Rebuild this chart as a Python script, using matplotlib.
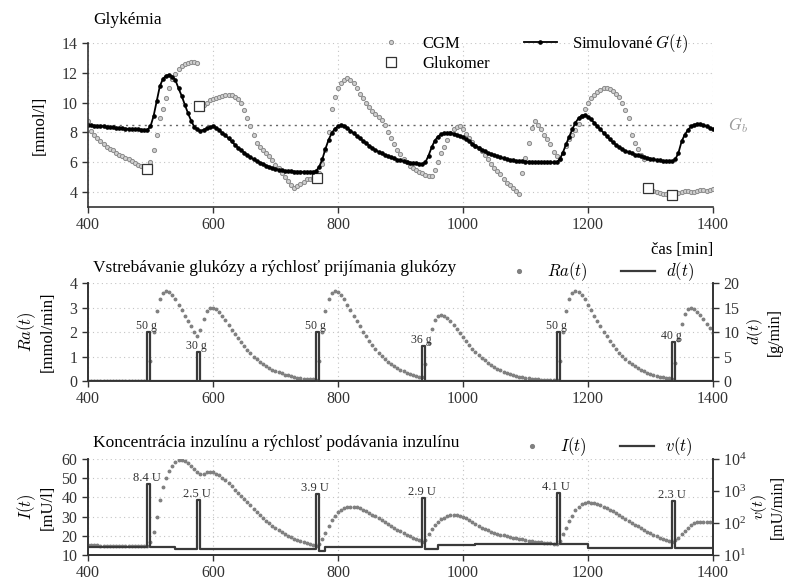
import numpy as np
import matplotlib
matplotlib.use('Agg')
import matplotlib.pyplot as plt

plt.rcParams['font.family'] = ['Liberation Serif', 'DejaVu Serif']
plt.rcParams['mathtext.fontset'] = 'cm'
plt.rcParams['font.size'] = 12

# casova os (vzorky po 5 min)
t = np.arange(400, 1401, 5)

# CGM meranie [mmol/l]
cgm = [8.8, 8.1, 7.85, 7.6, 7.4, 7.2, 7.05, 6.9, 6.8, 6.65, 6.5, 6.4, 6.3, 6.2, 6.1, 5.95, 5.85, 5.75, 5.65, 5.6,
       6.0, 6.8, 7.85, 8.95, 9.6, 10.3, 11.0, 11.6, 11.95, 12.25, 12.45, 12.6, 12.65, 12.7, 12.7, 12.65, 9.8, 9.85, 10.0, 10.15,
       10.25, 10.3, 10.4, 10.45, 10.5, 10.5, 10.5, 10.4, 10.25, 9.95, 9.5, 8.95, 8.45, 7.8, 7.3, 7.0, 6.8, 6.6, 6.4, 6.15,
       5.85, 5.6, 5.3, 5.0, 4.75, 4.45, 4.3, 4.4, 4.55, 4.7, 4.85, 4.9, 4.95, 5.0, 5.3, 5.9, 6.8, 8.0, 9.6, 10.4,
       11.0, 11.35, 11.55, 11.65, 11.55, 11.3, 10.95, 10.6, 10.3, 10.0, 9.7, 9.45, 9.25, 9.05, 8.85, 8.5, 8.0, 7.6, 7.2, 6.85,
       6.55, 6.25, 6.0, 5.75, 5.6, 5.45, 5.35, 5.25, 5.15, 5.1, 5.05, 5.5, 6.0, 6.6, 7.0, 7.5, 7.95, 8.25, 8.35, 8.4,
       8.2, 7.9, 7.6, 7.35, 7.1, 6.95, 6.75, 6.5, 6.2, 5.9, 5.6, 5.4, 5.2, 4.9, 4.6, 4.45, 4.25, 4.05, 3.85, 5.3,
       6.3, 7.3, 8.3, 8.75, 8.5, 8.2, 7.85, 7.55, 7.2, 6.7, 6.4, 6.25, 6.6, 7.1, 7.55, 7.85, 8.15, 8.6, 9.1, 9.55,
       9.95, 10.3, 10.5, 10.7, 10.85, 10.95, 10.95, 10.9, 10.8, 10.6, 10.35, 9.95, 9.5, 8.95, 7.85, 7.3, 6.9, 6.5, 6.2, 4.3,
       4.15, 4.05, 4.0, 3.95, 3.9, 3.85, 3.8, 3.8, 3.85, 3.95, 4.0, 4.05, 4.05, 4.0, 4.0, 4.1, 4.15, 4.15, 4.1, 4.15,
       4.2]

# simulovana glykemia G(t) [mmol/l]
g_sim = [8.5, 8.48, 8.46, 8.44, 8.42, 8.4, 8.38, 8.36, 8.34, 8.32, 8.3, 8.28, 8.26, 8.24, 8.22, 8.21, 8.2, 8.19, 8.18, 8.18,
         8.4, 9.1, 10.1, 11.1, 11.6, 11.8, 11.87, 11.75, 11.5, 10.95, 10.45, 9.86, 9.3, 8.8, 8.38, 8.2, 8.1, 8.18, 8.27, 8.36,
         8.4, 8.32, 8.15, 7.95, 7.8, 7.6, 7.4, 7.18, 6.98, 6.8, 6.65, 6.48, 6.35, 6.2, 6.08, 5.98, 5.88, 5.78, 5.7, 5.62,
         5.56, 5.5, 5.46, 5.42, 5.4, 5.39, 5.38, 5.37, 5.37, 5.36, 5.36, 5.36, 5.36, 5.4, 5.7, 6.2, 6.9, 7.5, 7.95, 8.25,
         8.4, 8.47, 8.45, 8.3, 8.12, 7.95, 7.78, 7.6, 7.45, 7.28, 7.12, 6.95, 6.82, 6.7, 6.6, 6.5, 6.4, 6.33, 6.26, 6.18,
         6.12, 6.06, 6.02, 5.98, 5.95, 5.92, 5.9, 5.88, 6.0, 6.45, 7.0, 7.45, 7.72, 7.88, 7.95, 7.97, 7.96, 7.92, 7.86, 7.78,
         7.68, 7.55, 7.4, 7.25, 7.1, 6.98, 6.85, 6.74, 6.64, 6.55, 6.48, 6.4, 6.33, 6.27, 6.2, 6.16, 6.12, 6.09, 6.07, 6.06,
         6.05, 6.04, 6.03, 6.02, 6.01, 6.0, 6.0, 5.99, 5.99, 5.99, 6.0, 6.2, 6.65, 7.2, 7.7, 8.2, 8.65, 8.95, 9.12, 9.15,
         9.05, 8.88, 8.65, 8.42, 8.2, 7.98, 7.75, 7.55, 7.35, 7.17, 7.02, 6.88, 6.76, 6.68, 6.6, 6.52, 6.46, 6.4, 6.34, 6.3,
         6.25, 6.2, 6.16, 6.12, 6.09, 6.07, 6.06, 6.06, 6.2, 6.65, 7.4, 7.85, 8.15, 8.4, 8.52, 8.56, 8.55, 8.5, 8.42, 8.32,
         8.2]

# glukomer
gluko_t = [495, 578, 767, 1296, 1335]
gluko_v = [5.55, 9.8, 4.95, 4.25, 3.8]
gb = 8.5

# Ra(t) [mmol/min]
ra = [0] * 20 + \
     [0.8, 2.0, 2.85, 3.35, 3.6, 3.68, 3.62, 3.5, 3.33, 3.12, 2.9, 2.67, 2.45, 2.23, 2.02, 1.82, 2.1, 2.55, 2.85, 2.98,
      3.0, 2.95, 2.82, 2.66, 2.48, 2.29, 2.1, 1.92, 1.75, 1.58, 1.42, 1.27, 1.13, 1.0, 0.89, 0.79, 0.7, 0.61, 0.54, 0.47,
      0.41, 0.35, 0.31, 0.26, 0.23, 0.19, 0.17, 0.14, 0.12, 0.1, 0.09, 0.08, 0.07, 0.06, 0.8, 2.0, 2.85, 3.35, 3.6, 3.68,
      3.62, 3.5, 3.33, 3.12, 2.9, 2.67, 2.45, 2.23, 2.02, 1.82, 1.63, 1.46, 1.3, 1.15, 1.02, 0.9, 0.79, 0.69, 0.6, 0.52,
      0.45, 0.39, 0.34, 0.29, 0.25, 0.21, 0.18, 0.15, 0.71, 1.55, 2.14, 2.49, 2.66, 2.71, 2.66, 2.57, 2.44, 2.29, 2.12, 1.95,
      1.79, 1.63, 1.47, 1.32, 1.18, 1.06, 0.95, 0.84, 0.74, 0.66, 0.58, 0.51, 0.44, 0.38, 0.33, 0.29, 0.25, 0.21, 0.18, 0.16,
      0.14, 0.11, 0.1, 0.08, 0.07, 0.06, 0.06, 0.05, 0.04, 0.04, 0.03, 0.8, 2.0, 2.85, 3.35, 3.6, 3.68, 3.62, 3.5, 3.33,
      3.12, 2.9, 2.67, 2.45, 2.23, 2.02, 1.82, 1.63, 1.46, 1.3, 1.15, 1.02, 0.9, 0.79, 0.69, 0.6, 0.52, 0.45, 0.39, 0.34,
      0.29, 0.25, 0.21, 0.18, 0.15, 0.13, 0.11, 0.09, 0.72, 1.67, 2.34, 2.73, 2.92, 2.98, 2.93, 2.83, 2.68, 2.52, 2.34, 2.15,
      1.97]

# jedla: cas, gramy, rychlost d(t) [g/min]
meal_t = [495, 575, 765, 935, 1150, 1335]
meal_g = [50, 30, 50, 36, 50, 40]
meal_rate = [10, 6, 10, 7.2, 10, 8]

# I(t) [mU/l]
ins = [15.2, 15.3, 15.2, 15.0, 14.9, 14.9, 14.8, 14.8, 14.8, 14.8, 14.7, 14.7, 14.7, 14.7, 14.6, 14.6, 14.6, 14.6, 14.6, 14.6,
       16.5, 22.0, 30.0, 38.5, 45.5, 50.2, 53.8, 56.5, 58.4, 59.3, 59.5, 59.0, 58.0, 56.5, 54.8, 53.2, 52.2, 52.4, 53.0, 53.3,
       53.0, 52.4, 51.4, 50.2, 48.8, 47.3, 45.7, 44.1, 42.5, 40.8, 39.2, 37.5, 35.8, 34.2, 32.5, 30.9, 29.3, 27.9, 26.5, 25.2,
       24.0, 22.9, 21.9, 21.0, 20.1, 19.3, 18.5, 17.8, 17.2, 16.6, 16.1, 15.6, 15.2, 14.8, 15.6, 18.3, 21.7, 25.2, 28.0, 30.3,
       32.2, 33.6, 34.5, 35.0, 35.2, 35.1, 34.8, 34.3, 33.6, 32.8, 31.9, 31.0, 30.1, 29.1, 28.1, 27.1, 26.1, 25.1, 24.1, 23.1,
       22.4, 21.4, 20.5, 19.7, 19.0, 18.3, 17.6, 16.8, 17.8, 21.0, 23.5, 25.5, 27.2, 28.5, 29.5, 30.1, 30.6, 30.8, 30.8, 30.5,
       29.8, 29.2, 28.3, 27.3, 26.3, 25.2, 24.3, 23.5, 22.8, 22.2, 21.6, 21.1, 20.6, 20.2, 19.8, 19.5, 19.1, 18.7, 18.4, 18.1,
       17.8, 17.5, 17.2, 17.0, 16.8, 16.6, 16.4, 16.2, 16.0, 15.8, 15.6, 17.5, 21.0, 24.2, 27.5, 30.5, 33.3, 35.2, 36.4, 37.1,
       37.4, 37.3, 37.0, 36.5, 35.9, 35.1, 34.3, 33.5, 32.7, 31.7, 30.7, 29.6, 28.6, 27.6, 26.6, 25.7, 24.9, 24.1, 23.0, 22.0,
       21.2, 20.5, 19.8, 19.1, 18.5, 17.9, 17.3, 16.7, 17.6, 19.0, 21.0, 22.5, 24.0, 25.6, 26.6, 27.0, 27.0, 27.0, 27.0, 27.0,
       27.0]

# v(t) [mU/min] - zlomove body (schodovito)
v_t = [400, 495, 500, 540, 575, 580, 765, 770, 780, 935, 940, 960, 1020, 1150, 1155, 1200, 1335, 1340, 1400]
v_val = [18, 1700, 18, 15, 515, 15, 795, 13, 17.5, 597, 15, 20.5, 22, 842, 22, 17, 477, 17, 17]

# bolusy inzulinu
bolus_t = [495, 575, 765, 935, 1150, 1335]
bolus_u = [8.4, 2.5, 3.9, 2.9, 4.1, 2.3]
bolus_rate = [1700, 515, 795, 597, 842, 477]

dark = '#3a3a3a'
gray = '#808080'
grid_kw = dict(color='#c4c4c4', ls=(0, (1, 3)), lw=0.8)


def style(ax, right=False):
    ax.spines['top'].set_visible(False)
    ax.spines['right'].set_visible(right)
    for s in ax.spines.values():
        s.set_linewidth(1.2)
        s.set_color('#333333')
    ax.tick_params(direction='out', length=4, width=1, labelsize=11.5, colors='#333333')
    ax.grid(True, **grid_kw)
    ax.set_axisbelow(True)
    ax.set_xlim(400, 1400)
    ax.set_xticks([400, 600, 800, 1000, 1200, 1400])


fig = plt.figure(figsize=(7.89, 5.81), dpi=100)
ax1 = fig.add_axes([0.1115, 0.6437, 0.792, 0.2823])
ax2 = fig.add_axes([0.1115, 0.3442, 0.792, 0.1687])
ax3 = fig.add_axes([0.1115, 0.0448, 0.792, 0.1652])

# --- Glykemia ---
style(ax1)
ax1.axhline(gb, color='#666666', ls=(0, (1.5, 3)), lw=1.0, zorder=1)
ax1.plot(t, cgm, ls='none', marker='o', ms=3, mfc='#d0d0d0', mec='#8a8a8a', mew=0.7, label='CGM')
ax1.plot(gluko_t, gluko_v, ls='none', marker='s', ms=7, mfc='white', mec='#333333', mew=0.9, label='Glukomer')
ax1.plot(t, g_sim, color='black', lw=1.3, marker='o', ms=2.3, label=r'Simulované $G(t)$')
ax1.set_ylim(3, 14)
ax1.set_yticks([4, 6, 8, 10, 12, 14])
ax1.set_ylabel('[mmol/l]')
ax1.yaxis.set_label_coords(-0.064, 0.5)
ax1.set_xlabel('čas [min]', loc='right', labelpad=6)
ax1.text(1425, gb, r'$G_b$', color='#999999', va='center', ha='left', fontsize=12, clip_on=False)
ax1.legend(ncol=2, loc='upper left', bbox_to_anchor=(366 / 789, 1 - 24 / 581), bbox_transform=fig.transFigure,
           frameon=False, borderpad=0, handlelength=2.0, handletextpad=0.9, columnspacing=2.0,
           labelspacing=0.2, fontsize=12)
fig.text(93 / 789, 1 - 20 / 581, 'Glykémia', ha='left', va='center', fontsize=12.5)

# --- Ra a d ---
style(ax2, right=True)
ax2r = ax2.twinx()
ax2r.spines['top'].set_visible(False)
for s in ax2r.spines.values():
    s.set_linewidth(1.2)
    s.set_color('#333333')
ax2r.tick_params(direction='out', length=4, width=1, labelsize=11.5, colors='#333333')

d_t = [400]
d_val = [0]
for m, r in zip(meal_t, meal_rate):
    d_t += [m, m + 5]
    d_val += [r, 0]
d_t.append(1400)
d_val.append(0)

ax2.plot(t, ra, ls='none', marker='o', ms=1.8, color=gray, label=r'$Ra(t)$', zorder=3)
ax2r.plot(d_t, d_val, drawstyle='steps-post', color=dark, lw=1.6, label=r'$d(t)$')
ax2.set_ylim(0, 4)
ax2.set_yticks([0, 1, 2, 3, 4])
ax2r.set_ylim(0, 20)
ax2r.set_yticks([0, 5, 10, 15, 20])
ax2.set_ylabel('$Ra(t)$\n[mmol/min]')
ax2.yaxis.set_label_coords(-0.051, 0.5)
ax2r.set_ylabel('$d(t)$\n[g/min]', fontsize=11.5, linespacing=1.1)
ax2r.yaxis.set_label_coords(1.052, 0.5)
for m, g, r in zip(meal_t, meal_g, meal_rate):
    ax2r.text(m - 1, r, '%d g' % g, ha='center', va='bottom', fontsize=8.5, color='#333333')
h1, l1 = ax2.get_legend_handles_labels()
h2, l2 = ax2r.get_legend_handles_labels()
ax2.legend(h1 + h2, l1 + l2, ncol=2, loc='center left', bbox_to_anchor=(494 / 789, 1 - 272 / 581),
           bbox_transform=fig.transFigure, frameon=False, borderpad=0, handlelength=2.0,
           handletextpad=0.7, columnspacing=2.0, fontsize=12, markerscale=1.5)
fig.text(93 / 789, 1 - 268 / 581, 'Vstrebávanie glukózy a rýchlosť prijímania glukózy',
         ha='left', va='center', fontsize=12.5)

# --- Inzulin ---
style(ax3, right=True)
ax3r = ax3.twinx()
ax3r.spines['top'].set_visible(False)
for s in ax3r.spines.values():
    s.set_linewidth(1.2)
    s.set_color('#333333')
ax3r.tick_params(direction='out', length=4, width=1, labelsize=11.5, colors='#333333')
ax3r.tick_params(which='minor', length=0)

ax3.plot(t, ins, ls='none', marker='o', ms=1.8, color=gray, label=r'$I(t)$', zorder=3)
ax3r.plot(v_t, v_val, drawstyle='steps-post', color=dark, lw=1.6, label=r'$v(t)$')
ax3.set_ylim(10, 60)
ax3.set_yticks([10, 20, 30, 40, 50, 60])
ax3r.set_yscale('log')
ax3r.set_ylim(10, 1e4)
ax3r.set_yticks([10, 100, 1000, 10000])
ax3r.minorticks_off()
ax3.set_ylabel('$I(t)$\n[mU/l]')
ax3.yaxis.set_label_coords(-0.051, 0.5)
ax3r.set_ylabel('$v(t)$\n[mU/min]', fontsize=11.5, linespacing=1.1)
ax3r.yaxis.set_label_coords(1.058, 0.5)
for m, u, r in zip(bolus_t, bolus_u, bolus_rate):
    ax3r.text(m - 1, r, '%.1f U' % u, ha='center', va='bottom', fontsize=9, color='#333333')
h1, l1 = ax3.get_legend_handles_labels()
h2, l2 = ax3r.get_legend_handles_labels()
ax3.legend(h1 + h2, l1 + l2, ncol=2, loc='center left', bbox_to_anchor=(507 / 789, 1 - 447 / 581),
           bbox_transform=fig.transFigure, frameon=False, borderpad=0, handlelength=2.0,
           handletextpad=0.7, columnspacing=2.0, fontsize=12, markerscale=1.5)
fig.text(93 / 789, 1 - 443 / 581, 'Koncentrácia inzulínu a rýchlosť podávania inzulínu',
         ha='left', va='center', fontsize=12.5)

fig.savefig('out.png', dpi=100)
